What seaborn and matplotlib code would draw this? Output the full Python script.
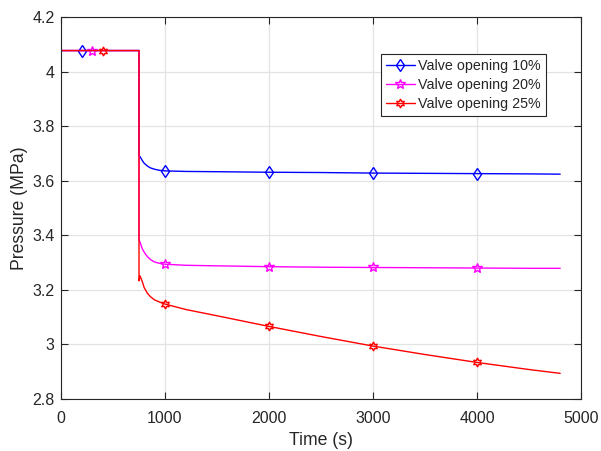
import matplotlib
matplotlib.use("Agg")
import matplotlib.pyplot as plt
import seaborn as sns
import pandas as pd

# Pressure transients after the valve step (time in s, pressure in MPa)
time_s = [0, 200, 300, 400, 750, 750, 760, 780, 800, 830, 860, 900, 950, 1000,
          1200, 1500, 2000, 2500, 3000, 3500, 4000, 4500, 4800]
p_10 = [4.077, 4.077, 4.077, 4.077, 4.077, 3.692, 3.688, 3.675, 3.664, 3.654,
        3.647, 3.642, 3.638, 3.636, 3.634, 3.633, 3.631, 3.630, 3.628, 3.627,
        3.626, 3.625, 3.624]
p_20 = [4.077, 4.077, 4.077, 4.077, 4.077, 3.383, 3.375, 3.352, 3.338, 3.322,
        3.311, 3.302, 3.297, 3.294, 3.290, 3.288, 3.285, 3.283, 3.282, 3.281,
        3.280, 3.279, 3.279]
p_25 = [4.077, 4.077, 4.077, 4.077, 4.077, 3.233, 3.251, 3.232, 3.208, 3.188,
        3.175, 3.163, 3.155, 3.148, 3.128, 3.105, 3.066, 3.029, 2.994, 2.963,
        2.934, 2.908, 2.894]

labels = ["Valve opening 10%", "Valve opening 20%", "Valve opening 25%"]
marker_times = [[200, 1000, 2000, 3000, 4000],
                [300, 1000, 2000, 3000, 4000],
                [400, 1000, 2000, 3000, 4000]]

x_ticks = [0, 1000, 2000, 3000, 4000, 5000]
y_ticks = [2.8, 3.0, 3.2, 3.4, 3.6, 3.8, 4.0, 4.2]
y_tick_labels = ["2.8", "3", "3.2", "3.4", "3.6", "3.8", "4", "4.2"]

sns.set_style("ticks")
plt.rcParams["font.family"] = ["Liberation Sans", "DejaVu Sans"]
ink = "#262626"

fig = plt.figure(figsize=(6.01, 4.51), dpi=100)
ax = fig.add_axes([61 / 601, 1 - 399 / 451, 520 / 601, 382 / 451])

styles = [
    dict(color="#0000ff", marker="d", markersize=6.5),
    dict(color="#ff00ff", marker="*", markersize=7.5),
    dict(color="#ff0000", marker=(6, 1, 0), markersize=6.5),
]
series = [p_10, p_20, p_25]

for vals, lab, mt, st in zip(series, labels, marker_times, styles):
    df = pd.DataFrame({"t": time_s, "p": vals})
    idx = [time_s.index(m) for m in mt]
    sns.lineplot(data=df, x="t", y="p", ax=ax, estimator=None, sort=False,
                 color=st["color"], linewidth=1.0, label=lab,
                 marker=st["marker"], markersize=st["markersize"],
                 markerfacecolor="none", markeredgecolor=st["color"],
                 markeredgewidth=1.0, markevery=idx)

ax.set_xlim(0, 5000)
ax.set_ylim(2.8, 4.2)
ax.set_xticks(x_ticks)
ax.set_yticks(y_ticks)
ax.set_yticklabels(y_tick_labels)
ax.grid(True, color="#e3e3e3", linewidth=0.9)
ax.set_axisbelow(True)

for side in ["left", "right", "top", "bottom"]:
    ax.spines[side].set_visible(True)
    ax.spines[side].set_color(ink)
    ax.spines[side].set_linewidth(0.8)

ax.tick_params(axis="both", which="both", direction="in", length=5, width=0.8,
               color=ink, labelcolor=ink, labelsize=11.5,
               top=True, right=True)
ax.tick_params(axis="x", pad=8.5)
ax.tick_params(axis="y", pad=4.5)

ax.set_xlabel("Time (s)", fontsize=12.7, color=ink, labelpad=4.5)
ax.set_ylabel("Pressure (MPa)", fontsize=12.7, color=ink, labelpad=3)

leg = ax.legend(loc="upper right", bbox_to_anchor=(546 / 601, 1 - 54 / 451),
                bbox_transform=fig.transFigure, borderaxespad=0,
                fontsize=10.3, frameon=True, fancybox=False, framealpha=1,
                edgecolor=ink, handlelength=2.0, handletextpad=0.25,
                labelspacing=0.35, borderpad=0.35, numpoints=1)
leg.get_frame().set_linewidth(0.8)

fig.savefig("out.png", dpi=100)
